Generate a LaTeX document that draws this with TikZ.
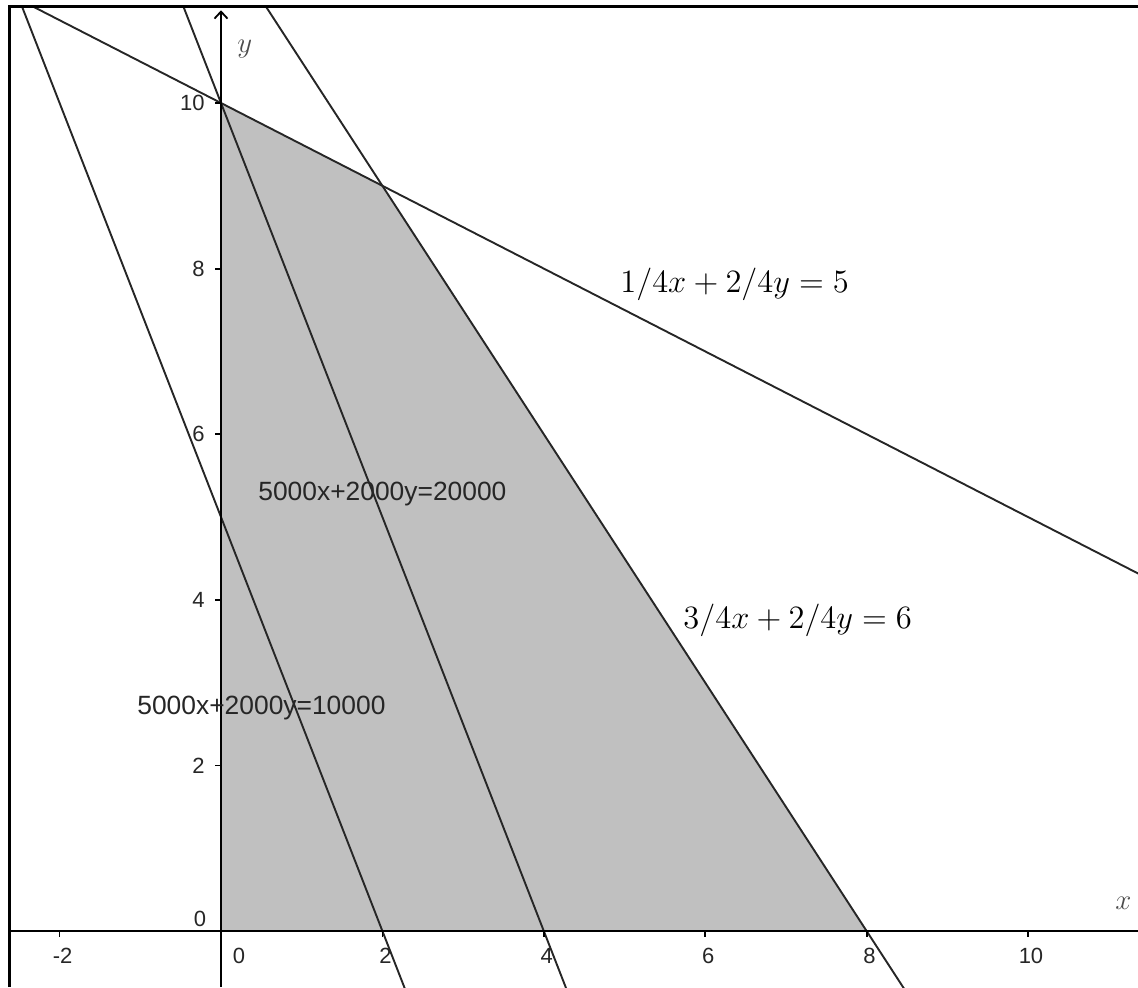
\documentclass[tikz,border=0pt]{standalone}
\usepackage{fontspec}
\newfontfamily\geo{Liberation Sans}
\usetikzlibrary{arrows.meta}
\definecolor{regiongray}{RGB}{192,192,192}
\tikzset{
  constraint/.style={line width=0.95pt, black!85},
  axisline/.style={line width=0.9pt, black},
  ticklbl/.style={font=\geo\fontsize{11}{13}\selectfont, inner sep=0pt, text=black!85},
  eqlbl/.style={font=\fontsize{14.4}{17}\selectfont, scale=1.13, inner sep=0pt, anchor=base west},
  axlbl/.style={font=\fontsize{14.4}{17}\selectfont, inner sep=0pt, anchor=base west, text=black!70},
  geolbl/.style={font=\geo\fontsize{13.2}{16}\selectfont, inner sep=0pt, anchor=base west, text=black!85},
}
\begin{document}
\begin{tikzpicture}[x=40.35pt,y=41.4pt]
\useasboundingbox (-2.7385,-0.6763) rectangle (11.363,11.244);
\begin{scope}
  \clip (-2.6146,-0.6763) rectangle (11.363,11.171);
  \fill[regiongray] (0,0) -- (0,10) -- (2,9) -- (8,0) -- cycle;
  \draw[constraint] (-3,11.5) -- (12,4);
  \draw[constraint] (0,12) -- (8.6667,-1);
  \draw[constraint] (-0.6,11.5) -- (4.4,-1);
  \draw[constraint] (-2.6,11.5) -- (2.4,-1);
  % axes
  \draw[axisline] (-2.6146,0) -- (11.363,0);
  \draw[axisline, -{Straight Barb[length=3.5pt,width=6.5pt]}] (0,-0.6763) -- (0,11.12);
  \foreach \t in {-2,2,4,6,8,10} {
    \draw[axisline] (\t,0) -- ++(0pt,-3pt);
    \node[ticklbl] (xl\t) at (\t+0.037,-0.302) {\t};
  }
  \foreach \t in {2,4,6,8,10} {
    \draw[axisline] (0,\t) -- ++(-3pt,0pt);
    \node[ticklbl, anchor=east] (yl\t) at (-0.198,\t) {\t};
  }
  \node[ticklbl] (xl0) at (0.223,-0.302) {0};
  \node[ticklbl] (yl0) at (-0.26,0.145) {0};
\end{scope}
% labels
\node[eqlbl] (eqA) at (4.944,7.717) {$1/4x+2/4y=5$};
\node[eqlbl] (eqB) at (5.725,3.659) {$3/4x+2/4y=6$};
\node[geolbl] (eqC) at (0.458,5.205) {5000x+2000y=20000};
\node[geolbl] (eqD) at (-1.041,2.609) {5000x+2000y=10000};
\node[axlbl] (xlab) at (11.078,0.254) {$x$};
\node[axlbl] (ylab) at (0.198,10.604) {$y$};
% frame
\draw[line width=1.5pt] (-2.6146,-0.6763) -- (-2.6146,11.171) -- (11.363,11.171);
\end{tikzpicture}
\end{document}
